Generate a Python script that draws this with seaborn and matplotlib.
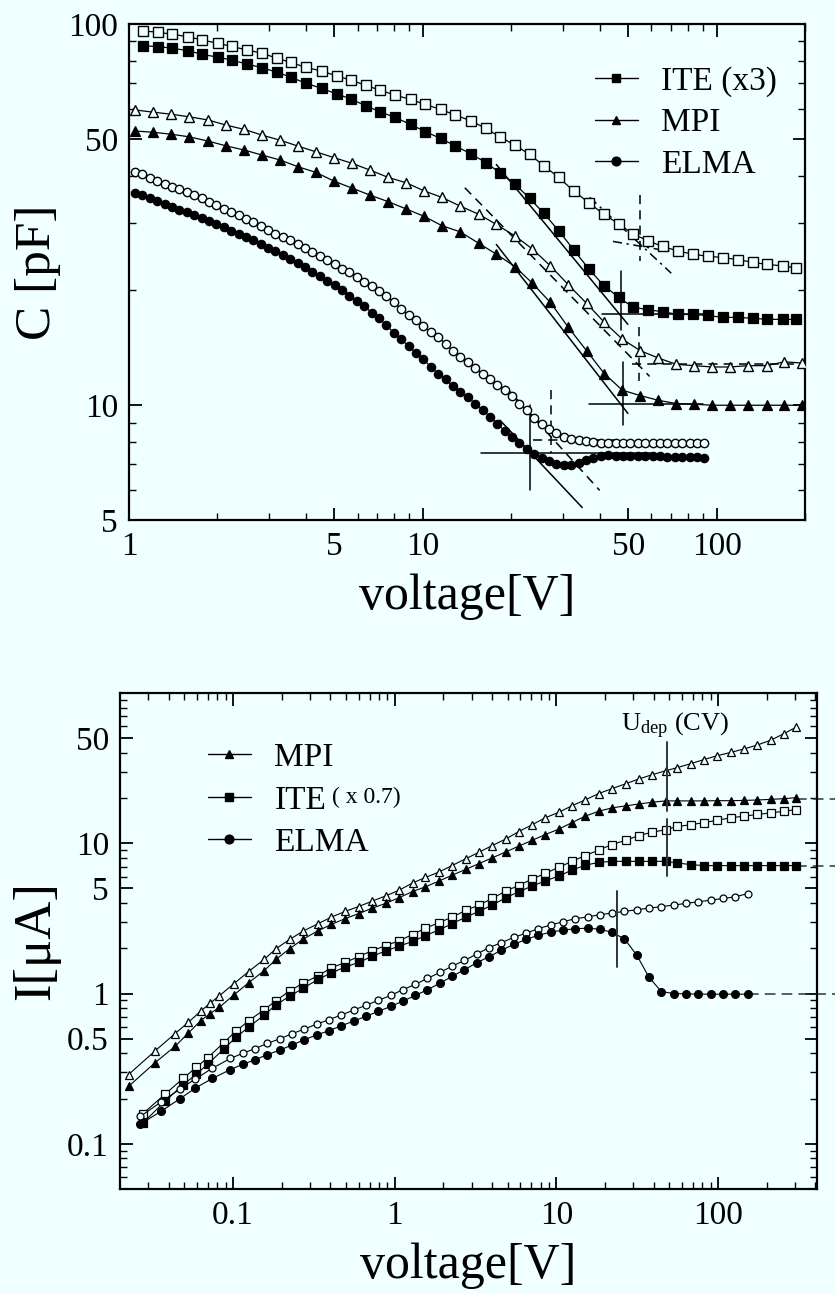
import numpy as np
import pandas as pd
import matplotlib
matplotlib.use("Agg")
import matplotlib.pyplot as plt
import seaborn as sns
from matplotlib.lines import Line2D
from matplotlib.ticker import FixedLocator, FixedFormatter, NullFormatter

BG = "#f0ffff"

# ---------------- top panel: C-V ----------------
cv_ite_v = [1.12, 1.26, 1.40, 1.59, 1.77, 2.01, 2.24, 2.52, 2.84, 3.19,
            3.56, 4.00, 4.53, 5.10, 5.69, 6.40, 7.14, 8.03, 9.10, 10.2,
            11.5, 12.9, 14.6, 16.4, 18.3, 20.6, 23.1, 25.8, 29.0, 32.6,
            36.7, 41.3, 46.4, 51.8, 58.3, 65.5, 73.7, 82.9, 93.2, 105,
            118, 133, 149, 168, 187]
cv_ite_open = [95.9, 95.1, 94.0, 92.6, 90.8, 89.0, 87.3, 85.5, 83.8, 81.3,
               79.3, 76.9, 75.3, 73.0, 71.3, 69.0, 67.1, 65.1, 63.4, 61.5,
               59.7, 57.7, 55.7, 53.2, 50.6, 48.1, 45.5, 42.5, 39.6, 36.5,
               34.0, 31.7, 29.9, 28.2, 27.0, 26.1, 25.4, 24.9, 24.6, 24.4,
               24.1, 23.7, 23.4, 23.2, 22.9]
cv_ite_fill = [87.7, 87.2, 86.4, 85.1, 83.3, 81.8, 80.4, 78.5, 76.8, 74.7,
               72.5, 69.9, 67.8, 65.5, 63.6, 61.0, 58.9, 56.9, 54.5, 52.2,
               50.1, 47.9, 45.6, 43.3, 40.7, 38.0, 34.9, 31.9, 28.7, 25.6,
               22.8, 20.6, 19.2, 18.1, 17.8, 17.6, 17.3, 17.3, 17.2, 17.0,
               17.0, 16.9, 16.8, 16.8, 16.8]

cv_mpi_v = [1.05, 1.21, 1.39, 1.60, 1.86, 2.14, 2.47, 2.84, 3.26, 3.77,
            4.33, 4.99, 5.75, 6.60, 7.62, 8.80, 10.1, 11.6, 13.4, 15.5,
            17.8, 20.6, 23.6, 27.2, 31.3, 36.1, 41.5, 47.8, 55.0, 63.4,
            72.9, 84.0, 96.7, 111, 128, 148, 170, 196]
cv_mpi_open = [59.5, 58.7, 58.0, 57.1, 56.0, 54.3, 52.9, 51.1, 49.6, 47.8,
               46.2, 44.6, 43.1, 41.4, 39.6, 38.3, 36.5, 35.1, 33.3, 31.7,
               29.8, 27.8, 25.7, 23.2, 20.7, 18.5, 16.5, 14.9, 13.9, 13.3,
               12.8, 12.7, 12.6, 12.6, 12.7, 12.7, 13.0, 12.9]
cv_mpi_fill = [52.4, 52.0, 51.4, 50.6, 49.3, 47.9, 46.7, 45.3, 44.0, 42.2,
               40.8, 38.7, 37.1, 35.6, 34.2, 32.7, 31.3, 29.6, 28.5, 26.6,
               24.9, 23.1, 20.9, 18.6, 16.0, 13.9, 12.1, 10.95, 10.6, 10.3,
               10.1, 10.06, 10.0, 10.0, 10.0, 10.0, 10.0, 10.0]

cv_elma_v = [1.048, 1.111, 1.177, 1.247, 1.322, 1.401, 1.484, 1.573, 1.667, 1.766,
             1.871, 1.983, 2.101, 2.227, 2.360, 2.500, 2.649, 2.807, 2.975, 3.152,
             3.340, 3.540, 3.751, 3.975, 4.212, 4.463, 4.729, 5.012, 5.311, 5.627,
             5.963, 6.319, 6.696, 7.095, 7.518, 7.967, 8.442, 8.946, 9.481, 10.05,
             10.65, 11.28, 11.95, 12.67, 13.42, 14.23, 15.08, 15.97, 16.93, 17.94,
             19.01, 20.14, 21.34, 22.62, 23.97, 25.40, 26.91, 28.52, 30.22, 32.02,
             33.93, 35.96, 38.10, 40.37, 42.78, 45.34, 48.04, 50.91, 53.95, 57.17,
             60.58, 64.19, 68.02, 72.08, 76.38, 80.94, 85.76, 90.89]
cv_elma_open = [41.0, 40.3, 39.4, 38.7, 38.0, 37.4, 36.9, 36.3, 35.6, 34.9,
                34.2, 33.5, 32.8, 32.2, 31.5, 30.8, 30.2, 29.5, 28.9, 28.2,
                27.7, 27.1, 26.5, 25.8, 25.2, 24.6, 24.0, 23.4, 22.8, 22.3,
                21.7, 21.1, 20.5, 19.9, 19.3, 18.6, 17.9, 17.2, 16.7, 16.1,
                15.6, 15.1, 14.5, 13.9, 13.4, 13.0, 12.5, 12.1, 11.7, 11.3,
                10.95, 10.6, 10.1, 9.70, 9.27, 8.94, 8.65, 8.44, 8.23, 8.14,
                8.09, 8.04, 8.01, 7.98, 7.96, 7.96, 7.97, 7.96, 7.95, 7.96,
                7.96, 7.97, 7.96, 7.96, 7.95, 7.96, 7.96, 7.96]
cv_elma_fill = [36.1, 35.5, 34.9, 34.3, 33.7, 33.2, 32.6, 32.1, 31.5, 31.0,
                30.4, 29.9, 29.3, 28.7, 28.2, 27.6, 27.1, 26.5, 25.9, 25.4,
                24.8, 24.2, 23.6, 23.0, 22.4, 21.8, 21.2, 20.7, 20.0, 19.4,
                18.8, 18.2, 17.5, 16.9, 16.2, 15.5, 14.9, 14.3, 13.7, 13.2,
                12.6, 12.1, 11.7, 11.2, 10.85, 10.5, 10.1, 9.73, 9.33, 8.94,
                8.57, 8.24, 7.95, 7.66, 7.43, 7.25, 7.12, 7.02, 6.97, 6.98,
                7.06, 7.17, 7.29, 7.36, 7.39, 7.38, 7.37, 7.36, 7.35, 7.35,
                7.34, 7.34, 7.33, 7.32, 7.32, 7.31, 7.31, 7.29]

# straight-line constructions for U_dep (top panel)
fit_solid_v = [[18.3, 34.9], [15.8, 60.0], [23.2, 23.2],
               [17.8, 49.9], [36.7, 90.0], [48.0, 48.0],
               [17.8, 49.9], [40.7, 90.0], [47.2, 47.2]]
fit_solid_c = [[9.14, 5.39], [7.5, 7.5], [10.0, 6.0],
               [26.4, 9.52], [10.06, 10.06], [13.0, 8.9],
               [42.8, 16.3], [17.4, 17.4], [22.5, 15.8]]
fit_dash_v = [[19.0, 40.0], [23.7, 45.0], [27.4, 27.4],
              [13.9, 59.2], [51.5, 200.0], [54.4, 54.4], [55.0, 55.0]]
fit_dash_c = [[11.24, 5.98], [8.12, 8.12], [10.95, 7.5],
              [37.2, 11.9], [12.8, 12.8], [16.0, 11.6], [35.7, 23.9]]
fit_dashdot_v = [[37.0, 70.1], [44.4, 70.0]]
fit_dashdot_c = [[35.1, 22.2], [26.9, 25.3]]

# ---------------- bottom panel: I-V ----------------
iv_mpi_v = [0.0226, 0.0328, 0.0438, 0.0529, 0.0631, 0.072, 0.0824, 0.101, 0.125, 0.156,
            0.185, 0.224, 0.273, 0.335, 0.405, 0.494, 0.598, 0.727, 0.879, 1.07,
            1.29, 1.55, 1.88, 2.26, 2.75, 3.32, 4.02, 4.86, 5.85, 7.07,
            8.56, 10.4, 12.5, 15.1, 18.3, 22.1, 26.8, 32.4, 39.1, 47.4,
            55.9, 67.7, 81.8, 98.9, 120, 145, 175, 212, 256, 304]
iv_mpi_open = [0.289, 0.413, 0.541, 0.643, 0.763, 0.86, 0.966, 1.16, 1.40, 1.69,
               1.99, 2.29, 2.61, 2.91, 3.22, 3.52, 3.79, 4.12, 4.46, 4.88,
               5.44, 5.92, 6.43, 7.10, 7.88, 8.71, 9.66, 10.66, 11.95, 13.27,
               14.78, 16.09, 17.77, 19.43, 21.43, 23.08, 24.86, 26.78, 28.58, 30.34,
               31.86, 33.81, 36.06, 38.24, 40.23, 42.44, 45.04, 48.5, 53.6, 59.2]
iv_mpi_fill = [0.241, 0.345, 0.445, 0.545, 0.659, 0.734, 0.810, 0.976, 1.18, 1.42,
               1.69, 1.99, 2.31, 2.61, 2.88, 3.15, 3.40, 3.70, 3.98, 4.35,
               4.77, 5.13, 5.60, 6.12, 6.70, 7.32, 8.00, 8.75, 9.56, 10.45,
               11.43, 12.44, 13.72, 15.15, 16.33, 17.20, 17.72, 18.25, 18.75, 19.14,
               19.14, 19.14, 19.14, 19.2, 19.2, 19.28, 19.4, 19.6, 19.8, 20.1]

iv_ite_v = [0.0278, 0.0382, 0.0491, 0.0593, 0.070, 0.0879, 0.104, 0.125, 0.156, 0.185,
            0.224, 0.273, 0.335, 0.405, 0.494, 0.598, 0.727, 0.879, 1.07, 1.29,
            1.55, 1.88, 2.26, 2.75, 3.32, 4.02, 4.86, 5.85, 7.07, 8.56,
            10.4, 12.5, 15.1, 18.3, 22.1, 26.8, 32.4, 39.1, 47.4, 55.9,
            67.7, 81.8, 98.9, 120, 145, 175, 212, 256, 304]
iv_ite_open = [0.159, 0.215, 0.272, 0.323, 0.375, 0.472, 0.56, 0.659, 0.78, 0.898,
               1.04, 1.176, 1.31, 1.48, 1.61, 1.76, 1.93, 2.08, 2.25, 2.47,
               2.72, 2.96, 3.22, 3.57, 3.88, 4.29, 4.81, 5.23, 5.77, 6.31,
               6.93, 7.58, 8.28, 9.01, 9.81, 10.45, 11.26, 11.83, 12.31, 12.93,
               13.27, 13.72, 14.22, 14.78, 15.15, 15.54, 15.92, 16.33, 16.75]
iv_ite_fill = [0.138, 0.193, 0.247, 0.29, 0.34, 0.428, 0.51, 0.597, 0.72, 0.842,
               0.96, 1.087, 1.24, 1.37, 1.50, 1.61, 1.77, 1.92, 2.07, 2.22,
               2.43, 2.65, 2.91, 3.22, 3.52, 3.88, 4.33, 4.76, 5.18, 5.62,
               6.06, 6.63, 7.14, 7.46, 7.58, 7.58, 7.58, 7.58, 7.58, 7.40,
               7.21, 7.10, 7.10, 7.10, 7.10, 7.10, 7.10, 7.10, 7.10]

iv_elma_v = [0.0267, 0.0360, 0.0472, 0.0585, 0.0745, 0.0965, 0.115, 0.137, 0.163, 0.195,
             0.232, 0.276, 0.329, 0.393, 0.468, 0.557, 0.664, 0.792, 0.943, 1.124,
             1.34, 1.596, 1.902, 2.267, 2.702, 3.219, 3.836, 4.572, 5.448, 6.493,
             7.736, 9.22, 10.99, 13.09, 15.61, 18.59, 22.16, 26.41, 31.47, 37.5,
             44.69, 53.25, 63.46, 75.62, 90.1, 107.4, 128, 152.5]
iv_elma_open = [0.152, 0.19, 0.232, 0.27, 0.318, 0.37, 0.40, 0.43, 0.465, 0.50,
                0.54, 0.58, 0.625, 0.67, 0.72, 0.775, 0.835, 0.90, 0.97, 1.06,
                1.15, 1.26, 1.38, 1.52, 1.66, 1.83, 2.02, 2.18, 2.36, 2.52,
                2.70, 2.86, 3.00, 3.15, 3.23, 3.35, 3.43, 3.52, 3.61, 3.70,
                3.79, 3.88, 3.98, 4.08, 4.18, 4.29, 4.40, 4.62]
iv_elma_fill = [0.135, 0.165, 0.20, 0.235, 0.272, 0.312, 0.338, 0.362, 0.392, 0.42,
                0.455, 0.492, 0.53, 0.566, 0.61, 0.655, 0.705, 0.76, 0.82, 0.89,
                0.97, 1.06, 1.17, 1.30, 1.44, 1.60, 1.76, 1.94, 2.12, 2.29,
                2.44, 2.56, 2.64, 2.70, 2.72, 2.68, 2.55, 2.31, 1.80, 1.28,
                1.03, 1.00, 0.995, 0.99, 0.99, 0.99, 0.99, 0.99]

# U_dep markers and saturation extensions (bottom panel)
udep_v = [48.1, 48.1, 23.8]
udep_lo = [16.3, 6.06, 1.49]
udep_hi = [47.5, 14.4, 4.81]
sat_v0 = [304, 304, 152.5]
sat_v1 = [530, 530, 530]
sat_i = [19.6, 7.05, 0.99]

# ---------------- style ----------------
sns.set_theme(style="ticks")
plt.rcParams.update({
    "font.family": ["Liberation Serif", "DejaVu Serif"],
    "mathtext.fontset": "custom",
    "mathtext.rm": "Liberation Serif",
    "mathtext.it": "Liberation Serif:italic",
    "axes.facecolor": BG,
    "figure.facecolor": BG,
    "savefig.facecolor": BG,
    "axes.edgecolor": "black",
    "axes.linewidth": 1.6,
    "xtick.color": "black",
    "ytick.color": "black",
    "text.color": "black",
    "axes.labelcolor": "black",
})

fig = plt.figure(figsize=(8.35, 12.94), dpi=100)
ax1 = fig.add_axes([129 / 835, 1 - 520 / 1294, 676 / 835, 496 / 1294])
ax2 = fig.add_axes([120 / 835, 1 - 1189 / 1294, 697 / 835, 496 / 1294])


def series(ax, v, y, marker, filled, ms, mew=0.9, lw=0.9):
    df = pd.DataFrame({"v": v, "y": y})
    sns.lineplot(data=df, x="v", y="y", ax=ax, color="black", linewidth=lw,
                 marker=marker, markersize=ms,
                 markerfacecolor="black" if filled else BG,
                 markeredgecolor="black", markeredgewidth=mew,
                 estimator=None, sort=False, legend=False, zorder=3)


def style_axis(ax):
    ax.tick_params(axis="both", which="major", direction="in", length=9,
                   width=1.3, top=True, right=True, labelsize=24, pad=8)
    ax.tick_params(axis="both", which="minor", direction="in", length=5,
                   width=1.0, top=True, right=True)
    for s in ax.spines.values():
        s.set_linewidth(1.6)
        s.set_color("black")


# ---- top panel ----
series(ax1, cv_ite_v, cv_ite_open, "s", False, 6.8, mew=1.0)
series(ax1, cv_ite_v, cv_ite_fill, "s", True, 6.8)
series(ax1, cv_mpi_v, cv_mpi_open, "^", False, 7.2, mew=1.0)
series(ax1, cv_mpi_v, cv_mpi_fill, "^", True, 7.2)
series(ax1, cv_elma_v, cv_elma_open, "o", False, 6.0, mew=1.0)
series(ax1, cv_elma_v, cv_elma_fill, "o", True, 6.0)

for xs, ys in zip(fit_solid_v, fit_solid_c):
    ax1.plot(xs, ys, color="black", lw=1.1, zorder=2)
for xs, ys in zip(fit_dash_v, fit_dash_c):
    ax1.plot(xs, ys, color="black", lw=1.1, ls=(0, (6, 4)), zorder=2)
for xs, ys in zip(fit_dashdot_v, fit_dashdot_c):
    ax1.plot(xs, ys, color="black", lw=1.1, ls=(0, (6, 3, 1.5, 3)), zorder=2)

ax1.set_xscale("log")
ax1.set_yscale("log")
ax1.set_xlim(1, 200)
ax1.set_ylim(5, 100)
ax1.xaxis.set_major_locator(FixedLocator([1, 5, 10, 50, 100]))
ax1.xaxis.set_major_formatter(FixedFormatter(["1", "5", "10", "50", "100"]))
ax1.xaxis.set_minor_locator(FixedLocator([2, 3, 4, 6, 7, 8, 9, 20, 30, 40, 60, 70, 80, 90, 200]))
ax1.xaxis.set_minor_formatter(NullFormatter())
ax1.yaxis.set_major_locator(FixedLocator([5, 10, 50, 100]))
ax1.yaxis.set_major_formatter(FixedFormatter(["5", "10", "50", "100"]))
ax1.yaxis.set_minor_locator(FixedLocator([6, 7, 8, 9, 20, 30, 40, 60, 70, 80, 90]))
ax1.yaxis.set_minor_formatter(NullFormatter())
style_axis(ax1)
ax1.set_xlabel("voltage[V]", fontsize=36)
ax1.set_ylabel("C [pF]", fontsize=37)
ax1.xaxis.set_label_coords(0.5, -0.108)
ax1.yaxis.set_label_coords(-0.100, 0.5)
ax1.xaxis.label.set_va("top")

h1 = [Line2D([0], [0], color="black", lw=1.0, marker=m, markersize=6.3,
             markerfacecolor="black", markeredgecolor="black") for m in ["s", "^", "o"]]
ax1.legend(h1, ["ITE (x3)", "MPI", "ELMA"], loc="upper left",
           bbox_to_anchor=(0.689, 0.915), frameon=False, fontsize=24,
           handlelength=1.3, handletextpad=0.7, labelspacing=0.33,
           borderpad=0, borderaxespad=0)

# ---- bottom panel ----
series(ax2, iv_mpi_v, iv_mpi_open, "^", False, 5.4, lw=0.8)
series(ax2, iv_mpi_v, iv_mpi_fill, "^", True, 5.4, lw=0.8)
series(ax2, iv_ite_v, iv_ite_open, "s", False, 5.2, lw=0.8)
series(ax2, iv_ite_v, iv_ite_fill, "s", True, 5.2, lw=0.8)
series(ax2, iv_elma_v, iv_elma_open, "o", False, 5.0, lw=0.8)
series(ax2, iv_elma_v, iv_elma_fill, "o", True, 5.6, lw=0.8)

for xv, lo, hi in zip(udep_v, udep_lo, udep_hi):
    ax2.plot([xv, xv], [lo, hi], color="#333333", lw=1.4, zorder=4)
for a, b, yv in zip(sat_v0, sat_v1, sat_i):
    ax2.plot([a, b], [yv, yv], color="#333333", lw=1.1, ls=(0, (7, 4)),
             clip_on=False, zorder=2)

ax2.set_xscale("log")
ax2.set_yscale("log")
ax2.set_xlim(0.02, 410)
ax2.set_ylim(0.05, 100)
ax2.xaxis.set_major_locator(FixedLocator([0.1, 1, 10, 100]))
ax2.xaxis.set_major_formatter(FixedFormatter(["0.1", "1", "10", "100"]))
xmin2 = [0.03, 0.04, 0.05, 0.06, 0.07, 0.08, 0.09,
         0.2, 0.3, 0.4, 0.5, 0.6, 0.7, 0.8, 0.9,
         2, 3, 4, 5, 6, 7, 8, 9, 20, 30, 40, 50, 60, 70, 80, 90, 200, 300, 400]
ax2.xaxis.set_minor_locator(FixedLocator(xmin2))
ax2.xaxis.set_minor_formatter(NullFormatter())
ax2.yaxis.set_major_locator(FixedLocator([0.1, 0.5, 1, 5, 10, 50]))
ax2.yaxis.set_major_formatter(FixedFormatter(["0.1", "0.5", "1", "5", "10", "50"]))
ymin2 = [0.06, 0.07, 0.08, 0.09, 0.2, 0.3, 0.4, 0.6, 0.7, 0.8, 0.9,
         2, 3, 4, 6, 7, 8, 9, 20, 30, 40, 60, 70, 80, 90]
ax2.yaxis.set_minor_locator(FixedLocator(ymin2))
ax2.yaxis.set_minor_formatter(NullFormatter())
style_axis(ax2)
ax2.set_xlabel("voltage[V]", fontsize=36)
ax2.set_ylabel("I[\u03bcA]", fontsize=38)
ax2.xaxis.set_label_coords(0.5, -0.108)
ax2.yaxis.set_label_coords(-0.086, 0.5)
ax2.xaxis.label.set_va("top")

h2 = [Line2D([0], [0], color="black", lw=1.0, marker=m, markersize=6.3,
             markerfacecolor="black", markeredgecolor="black") for m in ["^", "s", "o"]]
ax2.legend(h2, ["MPI", "ITE", "ELMA"], loc="upper left",
           bbox_to_anchor=(0.126, 0.900), frameon=False, fontsize=24,
           handlelength=1.3, handletextpad=0.7, labelspacing=0.36,
           borderpad=0, borderaxespad=0)
ax2.text(0.304, 0.790, "( x 0.7)", transform=ax2.transAxes, fontsize=17,
         ha="left", va="center")
ax2.text(0.719, 0.933, r"$\mathrm{U}_{\mathrm{dep}}$ (CV)", transform=ax2.transAxes,
         fontsize=19, ha="left", va="center")

fig.savefig("out.png", dpi=100, facecolor=BG)
